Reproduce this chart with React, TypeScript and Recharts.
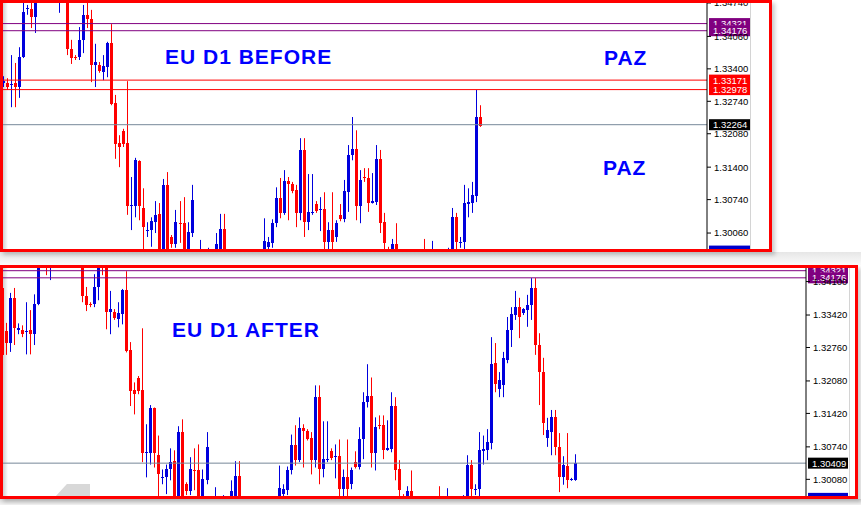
import React from 'react'
import { ComposedChart, Bar, XAxis, YAxis, ReferenceLine } from 'recharts'

// EURUSD daily bars, oldest first (bar 0 is the left edge of the "after" chart)
const OPEN = [
  1.3397, 1.3309, 1.3285, 1.3377, 1.3311, 1.3311, 1.3307, 1.3311, 1.3303, 1.3364,
  1.3461, 1.3462, 1.3446, 1.35, 1.352, 1.3505, 1.353, 1.3515, 1.3485, 1.351,
  1.3495, 1.338, 1.3365, 1.3364, 1.3399, 1.345, 1.3441, 1.3348, 1.3348, 1.3334,
  1.3344, 1.3393, 1.327, 1.3189, 1.3213, 1.3189, 1.3062, 1.3061, 1.3152, 1.3057,
  1.3011, 1.3012, 1.3028, 1.3045, 1.295, 1.3104, 1.2998, 1.2984, 1.3027, 1.3026,
  1.2962, 1.3006, 1.2965, 1.295, 1.2965, 1.2955, 1.2968, 1.2955, 1.296, 1.3014,
  1.2955, 1.294, 1.295, 1.293, 1.2945, 1.296, 1.2935, 1.295, 1.2958, 1.295,
  1.2978, 1.2986, 1.3026, 1.3077, 1.3047, 1.3112, 1.3106, 1.3093, 1.3047, 1.3175,
  1.3028, 1.3048, 1.3065, 1.3054, 1.3055, 1.2988, 1.3012, 1.2998, 1.3043, 1.3034,
  1.3089, 1.3165, 1.3177, 1.3061, 1.3119, 1.3118, 1.3067, 1.3069, 1.3157, 1.3028,
  1.297, 1.2955, 1.2984, 1.296, 1.294, 1.2955, 1.2938, 1.295, 1.296, 1.296,
  1.2945, 1.294, 1.2962, 1.2945, 1.293, 1.295, 1.296, 1.3038, 1.2987, 1.2988,
  1.3065, 1.3067, 1.3081, 1.3244, 1.3192, 1.32, 1.3251, 1.3312, 1.3342, 1.3358,
  1.3346, 1.3352, 1.3362, 1.3397, 1.3281, 1.3226, 1.3092, 1.3104, 1.3135, 1.3074,
  1.3013, 1.3035, 1.3008, 1.3007,
]
const HIGH = [
  1.3405, 1.3326, 1.3387, 1.3397, 1.3325, 1.3321, 1.3368, 1.3352, 1.3384, 1.3474,
  1.347, 1.349, 1.3521, 1.353, 1.3545, 1.354, 1.356, 1.3535, 1.3525, 1.353,
  1.351, 1.3399, 1.3368, 1.3425, 1.347, 1.3484, 1.346, 1.3391, 1.3354, 1.3368,
  1.3395, 1.3431, 1.3287, 1.3205, 1.3218, 1.3315, 1.312, 1.3159, 1.3154, 1.3097,
  1.3028, 1.3038, 1.3071, 1.3067, 1.3116, 1.313, 1.3002, 1.3053, 1.3071, 1.3079,
  1.3028, 1.3104, 1.297, 1.2992, 1.297, 1.2976, 1.297, 1.3006, 1.3045, 1.3045,
  1.2965, 1.296, 1.2962, 1.295, 1.2968, 1.2969, 1.2955, 1.2966, 1.2968, 1.3036,
  1.2998, 1.3034, 1.3099, 1.3118, 1.3134, 1.312, 1.311, 1.3104, 1.3199, 1.3199,
  1.3126, 1.3126, 1.3071, 1.3079, 1.3089, 1.3028, 1.3089, 1.3032, 1.3065, 1.3114,
  1.3185, 1.3242, 1.3215, 1.3134, 1.3138, 1.3138, 1.3128, 1.3185, 1.3175, 1.3047,
  1.2978, 1.2994, 1.3026, 1.2968, 1.2962, 1.2966, 1.2958, 1.2967, 1.2969, 1.2994,
  1.2965, 1.299, 1.2968, 1.296, 1.2955, 1.2976, 1.3057, 1.3047, 1.2998, 1.3104,
  1.3097, 1.311, 1.3297, 1.3285, 1.3226, 1.3267, 1.3338, 1.3358, 1.3391, 1.3377,
  1.3356, 1.3383, 1.3417, 1.3417, 1.3305, 1.3255, 1.3133, 1.3149, 1.3149, 1.3102,
  1.3055, 1.3102, 1.3011, 1.3059,
]
const LOW = [
  1.3255, 1.3261, 1.3267, 1.3281, 1.3303, 1.3297, 1.3262, 1.3262, 1.3281, 1.3362,
  1.345, 1.3423, 1.3413, 1.3485, 1.3495, 1.349, 1.351, 1.349, 1.3454, 1.3486,
  1.3368, 1.335, 1.3358, 1.3358, 1.3372, 1.3423, 1.3313, 1.3303, 1.3332, 1.3317,
  1.3323, 1.3266, 1.3157, 1.314, 1.3181, 1.3043, 1.3012, 1.3038, 1.3032, 1.2965,
  1.2998, 1.2978, 1.3006, 1.294, 1.294, 1.2955, 1.2976, 1.2976, 1.2986, 1.295,
  1.295, 1.2998, 1.294, 1.2935, 1.294, 1.2945, 1.2945, 1.2945, 1.295, 1.2945,
  1.293, 1.292, 1.2925, 1.291, 1.2935, 1.293, 1.292, 1.294, 1.294, 1.294,
  1.297, 1.2976, 1.3018, 1.3036, 1.3043, 1.3032, 1.3087, 1.3018, 1.3032, 1.2998,
  1.3012, 1.3043, 1.3047, 1.301, 1.2965, 1.2968, 1.2965, 1.2988, 1.303, 1.3028,
  1.3049, 1.3154, 1.3032, 1.3026, 1.311, 1.3049, 1.3066, 1.3063, 1.3006, 1.2965,
  1.2945, 1.2945, 1.295, 1.293, 1.2925, 1.2932, 1.292, 1.294, 1.2935, 1.293,
  1.2925, 1.293, 1.2935, 1.292, 1.2925, 1.294, 1.295, 1.2965, 1.2976, 1.2968,
  1.3038, 1.3047, 1.3069, 1.3185, 1.3175, 1.3175, 1.3244, 1.3277, 1.3332, 1.3295,
  1.3342, 1.3318, 1.3332, 1.3261, 1.3159, 1.3098, 1.3074, 1.3057, 1.3057, 1.2982,
  1.2997, 1.299, 1.3005, 1.3005,
]
const CLOSE = [
  1.3261, 1.3285, 1.3377, 1.3316, 1.3315, 1.3303, 1.3309, 1.3303, 1.3364, 1.3456,
  1.3463, 1.3446, 1.35, 1.352, 1.3505, 1.353, 1.3515, 1.35, 1.351, 1.3495,
  1.338, 1.3362, 1.3364, 1.3399, 1.345, 1.3441, 1.3348, 1.3354, 1.3336, 1.3346,
  1.3393, 1.3268, 1.3187, 1.3181, 1.3187, 1.3061, 1.3063, 1.3154, 1.3061, 1.3018,
  1.3012, 1.303, 1.3043, 1.2955, 1.3104, 1.2965, 1.2984, 1.3028, 1.3026, 1.2962,
  1.3008, 1.3073, 1.295, 1.2965, 1.2955, 1.2968, 1.295, 1.2984, 1.3014, 1.2955,
  1.294, 1.295, 1.293, 1.2945, 1.296, 1.2935, 1.295, 1.2958, 1.2945, 1.299,
  1.2988, 1.3026, 1.3077, 1.3047, 1.3112, 1.3106, 1.3091, 1.3047, 1.3175, 1.3028,
  1.3049, 1.3049, 1.3051, 1.3055, 1.2988, 1.3012, 1.2988, 1.3026, 1.3034, 1.3091,
  1.3165, 1.3177, 1.3061, 1.3114, 1.3118, 1.3067, 1.3071, 1.3157, 1.3026, 1.2986,
  1.2955, 1.2984, 1.296, 1.294, 1.2955, 1.2938, 1.295, 1.296, 1.2942, 1.2945,
  1.2955, 1.2962, 1.2945, 1.293, 1.295, 1.2966, 1.3038, 1.2988, 1.2988, 1.3067,
  1.3069, 1.3083, 1.3242, 1.3202, 1.321, 1.3255, 1.3312, 1.3344, 1.3358, 1.3338,
  1.3354, 1.3362, 1.3397, 1.3281, 1.3226, 1.3122, 1.3108, 1.3135, 1.3074, 1.3013,
  1.3037, 1.3007, 1.3009, 1.3041,
]

// bar 123 was still forming when the "before" shot was taken
const LIVE_BAR = { open: 1.3242, high: 1.3266, low: 1.3222, close: 1.3224 }
const BEFORE_FIRST = 4
const BEFORE_LAST = 123

const BEFORE_TICKS = [1.3006, 1.3074, 1.314, 1.3208, 1.3274, 1.334, 1.3406, 1.3474]
const AFTER_TICKS = [1.3008, 1.3074, 1.3142, 1.3208, 1.3276, 1.3342, 1.341]

const BEFORE_LEVELS = [
  { price: 1.34321, kind: 'zone' },
  { price: 1.34176, kind: 'zone' },
  { price: 1.33171, kind: 'entry' },
  { price: 1.32978, kind: 'entry' },
  { price: 1.32264, kind: 'bid' },
  { price: 1.29693, kind: 'ask' },
]
const AFTER_LEVELS = [
  { price: 1.34321, kind: 'zone' },
  { price: 1.34176, kind: 'zone' },
  { price: 1.30409, kind: 'bid' },
  { price: 1.29693, kind: 'ask' },
]

const BULL = '#0000dd'
const BEAR = '#ff0000'
const LINE_COLOR: Record<string, string> = { zone: '#800080', entry: '#ff0000', bid: '#778899', ask: 'none' }
const TAG_COLOR: Record<string, string> = { zone: '#800080', entry: '#ff0000', bid: '#000000', ask: '#0000cc' }
const FONT = 'Liberation Sans, Arial, sans-serif'

const bar = (d: number) => ({ open: OPEN[d], high: HIGH[d], low: LOW[d], close: CLOSE[d] })

const beforeRows = Array.from({ length: 176 }, (_, j) => {
  const d = j + BEFORE_FIRST
  if (d < BEFORE_LAST) return { slot: j, ...bar(d) }
  if (d === BEFORE_LAST) return { slot: j, ...LIVE_BAR }
  return { slot: j }
})
const afterRows = Array.from({ length: 201 }, (_, j) => (j < OPEN.length ? { slot: j, ...bar(j) } : { slot: j }))

const range = (r: any) => (r.open == null ? null : [r.low, r.high])

function Candle(props: any) {
  const { x, y, width, height, payload } = props
  if (!payload || payload.open == null || !isFinite(y) || !isFinite(height)) return null
  const { open, high, low, close } = payload
  const cx = Math.round(x + width / 2)
  const yHigh = y
  const yLow = y + height
  const py = (v: number) => yHigh + ((high - v) / (high - low)) * (yLow - yHigh)
  const color = close >= open ? BULL : BEAR
  const top = Math.round(py(Math.max(open, close)))
  const bot = Math.round(py(Math.min(open, close)))
  return (
    <g>
      <line x1={cx + 0.5} x2={cx + 0.5} y1={Math.min(yHigh, yLow)} y2={Math.max(yHigh, yLow)} stroke={color} />
      <rect x={cx - 1} y={top} width={3} height={Math.max(bot - top, 1)} fill={color} />
    </g>
  )
}

function priceTag(text: string, fill: string, w: number) {
  return (props: any) => {
    const vb = props.viewBox
    if (!vb) return null
    const x = vb.x + vb.width + 2
    const y = vb.y
    return (
      <g>
        <rect x={x} y={y - 5.5} width={w} height={11} fill={fill} />
        <text x={x + 4} y={y + 3.5} fill="#fff" fontSize={9.5} fontFamily={FONT}>
          {text}
        </text>
      </g>
    )
  }
}

function Panel({ rows, width, height, axisWidth, left, domain, ticks, levels, tagWidth }: any) {
  return (
    <ComposedChart width={width} height={height} data={rows} margin={{ top: 2, right: 0, bottom: 2, left }} barCategoryGap={0}>
      <XAxis dataKey="slot" hide />
      <YAxis
        orientation="right"
        width={axisWidth}
        type="number"
        domain={domain}
        allowDataOverflow
        ticks={ticks}
        interval={0}
        tickFormatter={(v: number) => v.toFixed(5)}
        stroke="#000"
        tickSize={4}
        tickMargin={3}
        tick={{ fill: '#000', fontSize: 9.5, fontFamily: FONT }}
      />
      {levels.map((l: any) => (
        <ReferenceLine
          key={l.price}
          y={l.price}
          stroke={LINE_COLOR[l.kind]}
          strokeWidth={1}
          ifOverflow="visible"
          label={priceTag(l.price.toFixed(5), TAG_COLOR[l.kind], tagWidth)}
        />
      ))}
      <Bar dataKey={range} isAnimationActive={false} shape={<Candle />} />
    </ComposedChart>
  )
}

const heading: React.CSSProperties = {
  position: 'absolute',
  fontFamily: FONT,
  fontWeight: 'bold',
  fontSize: 21,
  lineHeight: '21px',
  letterSpacing: 1,
  color: '#0000ff',
  whiteSpace: 'nowrap',
}

export default function App() {
  return (
    <div style={{ position: 'fixed', left: 0, top: 0, width: 861, height: 505, background: '#fff', overflow: 'hidden' }}>
      <div style={{ position: 'absolute', left: 0, top: 252, width: 861, height: 13, background: 'linear-gradient(#e6e6e6, #fbfbfb)' }} />
      <div style={{ position: 'absolute', left: 0, top: 499, width: 861, height: 6, background: 'linear-gradient(#dcdcdc, #f4f4f4)' }} />

      {/* before */}
      <div style={{ position: 'absolute', left: 3, top: 3, width: 5, height: 246, background: 'linear-gradient(to right, #d0d0d0, rgba(255,255,255,0))' }} />
      <div style={{ position: 'absolute', left: 750, top: 0, width: 1, height: 252, background: '#d4d4d4' }} />
      <div style={{ position: 'absolute', left: 0, top: 0, width: 772, height: 252, overflow: 'hidden' }}>
        <Panel rows={beforeRows} width={772} height={252} axisWidth={65} left={1} domain={[1.29715, 1.3476]} ticks={BEFORE_TICKS} levels={BEFORE_LEVELS} tagWidth={41} />
      </div>
      <div style={{ position: 'absolute', left: 0, top: 0, width: 772, height: 252, boxSizing: 'border-box', border: '3px solid #ff0000', boxShadow: '3px 3px 4px rgba(0,0,0,0.2)' }} />
      <div style={{ ...heading, left: 165, top: 46 }}>EU D1 BEFORE</div>
      <div style={{ ...heading, left: 604, top: 47 }}>PAZ</div>
      <div style={{ ...heading, left: 603, top: 157 }}>PAZ</div>

      {/* after */}
      <div style={{ position: 'absolute', left: 3, top: 268, width: 5, height: 228, background: 'linear-gradient(to right, #d0d0d0, rgba(255,255,255,0))' }} />
      <div style={{ position: 'absolute', left: 849, top: 265, width: 1, height: 234, background: '#d4d4d4' }} />
      <div style={{ position: 'absolute', left: 55, top: 484, width: 35, height: 13, background: '#d8d8d8', clipPath: 'polygon(34% 0, 100% 0, 100% 100%, 0 100%)' }} />
      <div style={{ position: 'absolute', left: 0, top: 265, width: 858, height: 234, overflow: 'hidden' }}>
        <Panel rows={afterRows} width={858} height={234} axisWidth={52} left={0} domain={[1.29721, 1.34396]} ticks={AFTER_TICKS} levels={AFTER_LEVELS} tagWidth={40} />
      </div>
      <div style={{ position: 'absolute', left: 0, top: 265, width: 858, height: 234, boxSizing: 'border-box', border: '3px solid #ff0000', boxShadow: '3px 3px 4px rgba(0,0,0,0.2)' }} />
      <div style={{ ...heading, left: 172, top: 319 }}>EU D1 AFTER</div>
    </div>
  )
}
